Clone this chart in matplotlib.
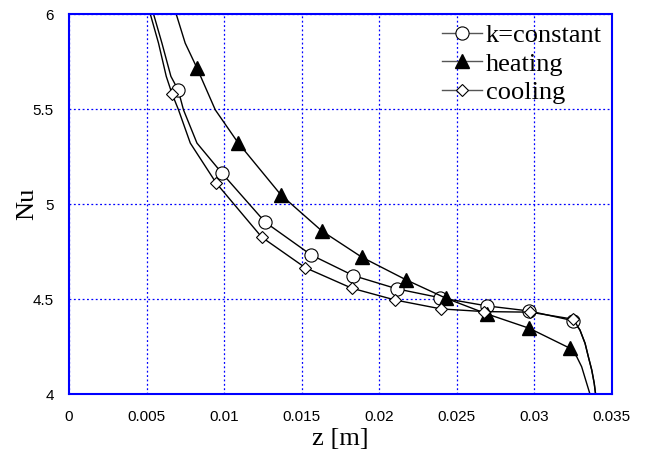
import matplotlib
matplotlib.use('Agg')
import matplotlib.pyplot as plt

# values
z_k = [0.00545, 0.00599, 0.00657, 0.00704, 0.00738, 0.00825, 0.00986, 0.01265, 0.01561,
       0.01834, 0.02117, 0.02392, 0.02693, 0.02968, 0.03251, 0.03294, 0.03327, 0.03348,
       0.0337, 0.03386, 0.03395]
nu_k = [6.0, 5.847, 5.672, 5.60, 5.496, 5.321, 5.163, 4.905, 4.733,
        4.624, 4.554, 4.508, 4.465, 4.438, 4.387, 4.338, 4.268, 4.198,
        4.128, 4.058, 4.0]
mk_k = [3, 6, 7, 8, 9, 10, 11, 12, 13, 14]

z_h = [0.00691, 0.00749, 0.00825, 0.00943, 0.01089, 0.01366, 0.0163, 0.01888, 0.02173,
       0.02431, 0.02693, 0.02968, 0.0323, 0.03273, 0.03305, 0.03331, 0.03359]
nu_h = [6.0, 5.847, 5.716, 5.496, 5.324, 5.049, 4.859, 4.721, 4.602,
        4.505, 4.423, 4.347, 4.242, 4.198, 4.145, 4.075, 4.0]
mk_h = [2, 4, 5, 6, 7, 8, 9, 10, 11, 12]

z_c = [0.00524, 0.00577, 0.00627, 0.00664, 0.00706, 0.00782, 0.00949, 0.01243, 0.01523,
       0.01823, 0.02102, 0.02399, 0.02676, 0.02972, 0.03251, 0.03294, 0.03327, 0.03348,
       0.0337, 0.03386, 0.03395]
nu_c = [6.0, 5.847, 5.672, 5.581, 5.496, 5.321, 5.111, 4.826, 4.666,
        4.558, 4.496, 4.449, 4.435, 4.432, 4.395, 4.338, 4.268, 4.198,
        4.128, 4.058, 4.0]
mk_c = [3, 6, 7, 8, 9, 10, 11, 12, 13, 14]

serif = ['Liberation Serif', 'DejaVu Serif']
sans = ['Liberation Sans', 'DejaVu Sans']

fig = plt.figure(figsize=(6.46, 4.58), dpi=100)
ax = fig.add_axes([69/646, 1-394.3/458, (611.9-69)/646, (394.3-14)/458])

ax.plot(z_k, nu_k, color='black', lw=1, marker='o', markevery=mk_k, markersize=9.5,
        markerfacecolor='white', markeredgecolor='black', markeredgewidth=0.8, label='k=constant')
ax.plot(z_h, nu_h, color='black', lw=1, marker='^', markevery=mk_h, markersize=10,
        markerfacecolor='black', markeredgecolor='black', label='heating')
ax.plot(z_c, nu_c, color='black', lw=1, marker='D', markevery=mk_c, markersize=6.5,
        markerfacecolor='white', markeredgecolor='black', markeredgewidth=0.8, label='cooling')

ax.set_xlim(0, 0.035)
ax.set_ylim(4, 6)
ax.set_xticks([0, 0.005, 0.01, 0.015, 0.02, 0.025, 0.03, 0.035])
ax.set_xticklabels(['0', '0.005', '0.01', '0.015', '0.02', '0.025', '0.03', '0.035'])
ax.set_yticks([4, 4.5, 5, 5.5, 6])
ax.set_yticklabels(['4', '4.5', '5', '5.5', '6'])
ax.tick_params(length=0, labelsize=11, pad=11)
for lab in ax.get_xticklabels() + ax.get_yticklabels():
    lab.set_family(sans)

ax.grid(True, color='blue', linestyle=(0, (1.5, 2)), linewidth=0.9)
for s in ax.spines.values():
    s.set_color('blue')
    s.set_linewidth(1.5)

ax.set_xlabel('z [m]', fontsize=19, family=serif, labelpad=3)
ax.set_ylabel('Nu', fontsize=19, family=serif)
ax.yaxis.set_label_coords(-0.057, 0.5)

leg = ax.legend(loc='upper right', bbox_to_anchor=(0.981, 0.975), frameon=False,
                prop={'family': serif, 'size': 19}, handlelength=1.5, handletextpad=0.15,
                labelspacing=0.2, borderaxespad=0, borderpad=0)
for h in leg.legend_handles:
    h.set_color('#555555')
    h.set_markeredgecolor('black')

fig.savefig('out.png', dpi=100)
